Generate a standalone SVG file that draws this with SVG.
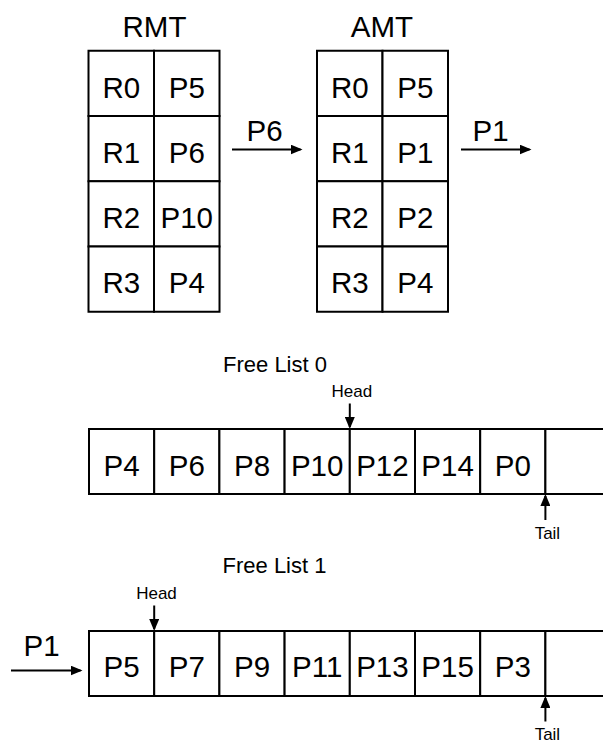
<svg xmlns="http://www.w3.org/2000/svg" width="603" height="743" viewBox="0 0 603 743">
<style>
.cell{fill:#fff;stroke:#000;stroke-width:2}
.big{font-family:"Liberation Sans",Arial,sans-serif;font-size:29.5px;fill:#000;text-anchor:middle}
.mid{font-family:"Liberation Sans",Arial,sans-serif;font-size:22px;fill:#000;text-anchor:middle}
.small{font-family:"Liberation Sans",Arial,sans-serif;font-size:17px;fill:#000;text-anchor:middle}
.arrow{fill:none;stroke:#000;stroke-width:2;marker-end:url(#ah)}
</style>
<defs>
<marker id="ah" markerUnits="userSpaceOnUse" markerWidth="12" markerHeight="10" refX="10" refY="5" orient="auto">
<path d="M0,0 L12,5 L0,10 z" fill="#000"/>
</marker>
</defs>
<rect x="0" y="0" width="603" height="743" fill="#fff"/>

<g id="rmt">
<text class="big" x="154.5" y="37">RMT</text>
<rect class="cell" x="88.5" y="50.75" width="65.5" height="65.25"/>
<rect class="cell" x="154" y="50.75" width="65.5" height="65.25"/>
<rect class="cell" x="88.5" y="116" width="65.5" height="65.25"/>
<rect class="cell" x="154" y="116" width="65.5" height="65.25"/>
<rect class="cell" x="88.5" y="181.25" width="65.5" height="65.25"/>
<rect class="cell" x="154" y="181.25" width="65.5" height="65.25"/>
<rect class="cell" x="88.5" y="246.5" width="65.5" height="65.25"/>
<rect class="cell" x="154" y="246.5" width="65.5" height="65.25"/>
<text class="big" x="121.25" y="97.5">R0</text>
<text class="big" x="186.75" y="97.5">P5</text>
<text class="big" x="121.25" y="162.5">R1</text>
<text class="big" x="186.75" y="162.5">P6</text>
<text class="big" x="121.25" y="227.75">R2</text>
<text class="big" x="186.75" y="227.75">P10</text>
<text class="big" x="121.25" y="293">R3</text>
<text class="big" x="186.75" y="293">P4</text>
</g>

<g id="amt">
<text class="big" x="382" y="37">AMT</text>
<rect class="cell" x="317" y="50.75" width="65.5" height="65.25"/>
<rect class="cell" x="382.5" y="50.75" width="65.5" height="65.25"/>
<rect class="cell" x="317" y="116" width="65.5" height="65.25"/>
<rect class="cell" x="382.5" y="116" width="65.5" height="65.25"/>
<rect class="cell" x="317" y="181.25" width="65.5" height="65.25"/>
<rect class="cell" x="382.5" y="181.25" width="65.5" height="65.25"/>
<rect class="cell" x="317" y="246.5" width="65.5" height="65.25"/>
<rect class="cell" x="382.5" y="246.5" width="65.5" height="65.25"/>
<text class="big" x="349.75" y="97.5">R0</text>
<text class="big" x="415.25" y="97.5">P5</text>
<text class="big" x="349.75" y="162.5">R1</text>
<text class="big" x="415.25" y="162.5">P1</text>
<text class="big" x="349.75" y="227.75">R2</text>
<text class="big" x="415.25" y="227.75">P2</text>
<text class="big" x="349.75" y="293">R3</text>
<text class="big" x="415.25" y="293">P4</text>
</g>

<g id="freelist0">
<text class="mid" x="275" y="371.5">Free List 0</text>
<rect class="cell" x="89" y="429" width="65.2" height="65"/>
<rect class="cell" x="154.2" y="429" width="65.2" height="65"/>
<rect class="cell" x="219.4" y="429" width="65.2" height="65"/>
<rect class="cell" x="284.6" y="429" width="65.2" height="65"/>
<rect class="cell" x="349.8" y="429" width="65.2" height="65"/>
<rect class="cell" x="415" y="429" width="65.2" height="65"/>
<rect class="cell" x="480.2" y="429" width="65.2" height="65"/>
<rect class="cell" x="545.4" y="429" width="65.2" height="65"/>
<text class="big" x="121.6" y="475.5">P4</text>
<text class="big" x="186.8" y="475.5">P6</text>
<text class="big" x="252" y="475.5">P8</text>
<text class="big" x="317.2" y="475.5">P10</text>
<text class="big" x="382.4" y="475.5">P12</text>
<text class="big" x="447.6" y="475.5">P14</text>
<text class="big" x="512.8" y="475.5">P0</text>
</g>

<g id="freelist1">
<text class="mid" x="274.5" y="572.5">Free List 1</text>
<rect class="cell" x="89" y="631" width="65.2" height="65"/>
<rect class="cell" x="154.2" y="631" width="65.2" height="65"/>
<rect class="cell" x="219.4" y="631" width="65.2" height="65"/>
<rect class="cell" x="284.6" y="631" width="65.2" height="65"/>
<rect class="cell" x="349.8" y="631" width="65.2" height="65"/>
<rect class="cell" x="415" y="631" width="65.2" height="65"/>
<rect class="cell" x="480.2" y="631" width="65.2" height="65"/>
<rect class="cell" x="545.4" y="631" width="65.2" height="65"/>
<text class="big" x="121.6" y="677">P5</text>
<text class="big" x="186.8" y="677">P7</text>
<text class="big" x="252" y="677">P9</text>
<text class="big" x="317.2" y="677">P11</text>
<text class="big" x="382.4" y="677">P13</text>
<text class="big" x="447.6" y="677">P15</text>
<text class="big" x="512.8" y="677">P3</text>
</g>

<g id="connectors">
<line class="arrow" x1="232" y1="149.5" x2="300.5" y2="149.5"/>
<text class="big" x="264.5" y="141">P6</text>
<line class="arrow" x1="461" y1="149.5" x2="529.5" y2="149.5"/>
<text class="big" x="490.5" y="141">P1</text>
<line class="arrow" x1="349.8" y1="403.5" x2="349.8" y2="427"/>
<text class="small" x="351.8" y="396.5">Head</text>
<line class="arrow" x1="545.4" y1="520" x2="545.4" y2="496"/>
<text class="small" x="547.4" y="539">Tail</text>
<line class="arrow" x1="11" y1="670.5" x2="80.5" y2="670.5"/>
<text class="big" x="41.5" y="656">P1</text>
<line class="arrow" x1="154.2" y1="605.5" x2="154.2" y2="629"/>
<text class="small" x="156.5" y="599">Head</text>
<line class="arrow" x1="545.4" y1="721.5" x2="545.4" y2="698"/>
<text class="small" x="547.4" y="740">Tail</text>
</g>
</svg>
